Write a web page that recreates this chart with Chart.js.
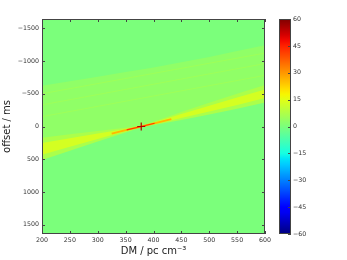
<!DOCTYPE html>
<html>
<head>
<meta charset="utf-8">
<script src="https://cdn.jsdelivr.net/npm/chart.js@4.4.1/dist/chart.umd.min.js"></script>
<style>
  html, body { margin: 0; padding: 0; background: #fff; }
  #wrap { position: relative; width: 347px; height: 260px; }
  #plot { position: absolute; left: 0; top: 0; }
  #bar { position: absolute; left: 275px; top: 0; }
</style>
</head>
<body>
<div id="wrap">
  <canvas id="plot" width="275" height="260"></canvas>
  <canvas id="bar" width="72" height="260"></canvas>
</div>
<script>
var dmTicks = [200, 250, 300, 350, 400, 450, 500, 550, 600];
var offsetTicks = [-1500, -1000, -500, 0, 500, 1000, 1500];
var cbarTicks = [-60, -45, -30, -15, 0, 15, 30, 45, 60];

// sweep of the pulse across DM (offset in ms)
var bandDM     = [200, 250, 300, 350, 378, 400, 450, 500, 550, 600];
var bandCentre = [340, 245, 150, 55, 0, -48, -160, -272, -385, -500];
var outerHalf  = [170, 125, 80, 35, 12, 25, 60, 90, 115, 135];
var innerHalf  = [90, 65, 42, 18, 5, 12, 30, 45, 58, 65];
var fanTop     = [-620, -690, -760, -830, -870, -900, -980, -1060, -1150, -1240];

var coreDM     = [325, 350, 378, 405, 432];
var coreOffset = [108, 55, 0, -56, -112];
var peakDM     = [352, 378, 402];
var peakOffset = [52, 0, -50];

var streakDM   = [200, 600];
var streakA    = [-150, -780];
var streakB    = [-330, -960];
var streakC    = [-500, -1120];

var markerDM = [378];
var markerOffset = [0];

// intensity of each feature, on the colour bar scale
var fanLevel = 3, streakLevel = 5, outerLevel = 7, innerLevel = 13, coreLevel = 26, peakLevel = 42;

function jet(t) {
    t = Math.max(0, Math.min(1, t));
    function seg(p) {
        for (var i = 1; i < p.length; i++) {
            if (t <= p[i][0]) {
                var f = (t - p[i - 1][0]) / (p[i][0] - p[i - 1][0]);
                return p[i - 1][1] + f * (p[i][1] - p[i - 1][1]);
            }
        }
        return p[p.length - 1][1];
    }
    var r = seg([[0, 0], [0.35, 0], [0.66, 1], [0.89, 1], [1, 0.5]]);
    var g = seg([[0, 0], [0.125, 0], [0.375, 1], [0.64, 1], [0.91, 0], [1, 0]]);
    var b = seg([[0, 0.5], [0.11, 1], [0.34, 1], [0.65, 0], [1, 0]]);
    return 'rgb(' + Math.round(r * 255) + ',' + Math.round(g * 255) + ',' + Math.round(b * 255) + ')';
}
function level(v) { return jet((v + 60) / 120); }

function pts(xs, ys) {
    return xs.map(function (x, i) { return {x: x, y: ys[i]}; });
}
function minus(v) { return String(v).replace('-', '\u2212'); }

var outerTop = bandCentre.map(function (c, i) { return c - outerHalf[i]; });
var outerBottom = bandCentre.map(function (c, i) { return c + outerHalf[i]; });
var innerTop = bandCentre.map(function (c, i) { return c - innerHalf[i]; });
var innerBottom = bandCentre.map(function (c, i) { return c + innerHalf[i]; });

var clear = 'rgba(0,0,0,0)';
var font = 'DejaVu Sans';

function edge(data, target, colour, order) {
    return {
        data: data, borderColor: clear, borderWidth: 1, pointRadius: 0,
        fill: target === null ? false : {target: target},
        backgroundColor: colour || clear, order: order
    };
}
function streak(data) {
    return {data: data, borderColor: level(streakLevel), borderWidth: 1, pointRadius: 0, fill: false, order: 5};
}

var framePlugin = {
    id: 'framePlugin',
    beforeDraw: function (chart) {
        var a = chart.chartArea, ctx = chart.ctx;
        ctx.save();
        ctx.fillStyle = level(0);
        ctx.fillRect(a.left, a.top, a.right - a.left, a.bottom - a.top);
        ctx.restore();
    },
    afterDraw: function (chart) {
        var a = chart.chartArea, ctx = chart.ctx;
        var sx = chart.scales.x, sy = chart.scales.y;
        ctx.save();
        ctx.strokeStyle = '#444';
        ctx.lineWidth = 1;
        ctx.strokeRect(a.left + 0.5, a.top + 0.5, a.right - a.left - 1, a.bottom - a.top - 1);
        ctx.beginPath();
        dmTicks.forEach(function (v) {
            var x = Math.round(sx.getPixelForValue(v)) + 0.5;
            ctx.moveTo(x, a.bottom); ctx.lineTo(x, a.bottom - 3);
            ctx.moveTo(x, a.top); ctx.lineTo(x, a.top + 3);
        });
        offsetTicks.forEach(function (v) {
            var y = Math.round(sy.getPixelForValue(v)) + 0.5;
            ctx.moveTo(a.left, y); ctx.lineTo(a.left + 3, y);
            ctx.moveTo(a.right, y); ctx.lineTo(a.right - 3, y);
        });
        ctx.stroke();
        ctx.restore();
    }
};

new Chart(document.getElementById('plot'), {
    type: 'line',
    data: {
        datasets: [
            {data: pts(markerDM, markerOffset), showLine: false, pointStyle: 'cross',
             pointRadius: 4, borderColor: '#b00000', borderWidth: 1.2, order: 0},
            {data: pts(peakDM, peakOffset), borderColor: level(peakLevel), borderWidth: 1.2, pointRadius: 0, fill: false, order: 1},
            {data: pts(coreDM, coreOffset), borderColor: level(coreLevel), borderWidth: 1.8, pointRadius: 0, fill: false, order: 2},
            edge(pts(bandDM, innerTop), 4, level(innerLevel), 3),
            edge(pts(bandDM, innerBottom), null, null, 3),
            edge(pts(bandDM, outerTop), 6, level(outerLevel), 4),
            edge(pts(bandDM, outerBottom), null, null, 4),
            streak(pts(streakDM, streakA)),
            streak(pts(streakDM, streakB)),
            streak(pts(streakDM, streakC)),
            edge(pts(bandDM, fanTop), 11, level(fanLevel), 6),
            edge(pts(bandDM, bandCentre), null, null, 6)
        ]
    },
    options: {
        responsive: false,
        animation: false,
        devicePixelRatio: 1,
        layout: {padding: {top: 19, right: 10, left: 0, bottom: 0}},
        elements: {line: {tension: 0}},
        plugins: {legend: {display: false}, tooltip: {enabled: false}},
        scales: {
            x: {
                type: 'linear', min: 200, max: 600,
                afterBuildTicks: function (s) { s.ticks = dmTicks.map(function (v) { return {value: v}; }); },
                afterFit: function (s) { s.height = 26; },
                grid: {display: false, drawTicks: false}, border: {display: false},
                ticks: {font: {family: font, size: 6.3}, color: '#333', padding: 3, maxRotation: 0, autoSkip: false},
                title: {display: true, text: 'DM / pc cm\u207B\u00B3', color: '#222',
                        font: {family: font, size: 10}, padding: {top: 0, bottom: 3}}
            },
            y: {
                type: 'linear', min: -1640, max: 1640, reverse: true,
                afterBuildTicks: function (s) { s.ticks = offsetTicks.map(function (v) { return {value: v}; }); },
                afterFit: function (s) { s.width = 42; },
                grid: {display: false, drawTicks: false}, border: {display: false},
                ticks: {font: {family: font, size: 6.3}, color: '#333', padding: 3, autoSkip: false, callback: minus},
                title: {display: true, text: 'offset / ms', color: '#222',
                        font: {family: font, size: 10}, padding: {top: 1, bottom: 0}}
            }
        }
    },
    plugins: [framePlugin]
});

var barPlugin = {
    id: 'barPlugin',
    afterDraw: function (chart) {
        var a = chart.chartArea, ctx = chart.ctx, sy = chart.scales.y;
        ctx.save();
        ctx.strokeStyle = '#444';
        ctx.lineWidth = 1;
        ctx.strokeRect(a.left + 0.5, a.top + 0.5, a.right - a.left - 1, a.bottom - a.top - 1);
        ctx.beginPath();
        cbarTicks.forEach(function (v) {
            var y = Math.round(sy.getPixelForValue(v)) + 0.5;
            ctx.moveTo(a.right, y); ctx.lineTo(a.right - 3, y);
        });
        ctx.stroke();
        ctx.restore();
    }
};

new Chart(document.getElementById('bar'), {
    type: 'bar',
    data: {
        labels: [''],
        datasets: [{
            data: [[cbarTicks[0], cbarTicks[cbarTicks.length - 1]]],
            backgroundColor: function (c) {
                var a = c.chart.chartArea;
                if (!a) return level(0);
                var g = c.chart.ctx.createLinearGradient(0, a.bottom, 0, a.top);
                for (var i = 0; i <= 40; i++) g.addColorStop(i / 40, jet(i / 40));
                return g;
            },
            borderWidth: 0, barPercentage: 1, categoryPercentage: 1
        }]
    },
    options: {
        responsive: false,
        animation: false,
        devicePixelRatio: 1,
        layout: {padding: {left: 4, top: 19, bottom: 26, right: 0}},
        plugins: {legend: {display: false}, tooltip: {enabled: false}},
        scales: {
            x: {display: false},
            y: {
                position: 'right', min: -60, max: 60,
                afterBuildTicks: function (s) { s.ticks = cbarTicks.map(function (v) { return {value: v}; }); },
                afterFit: function (s) { s.width = 56; },
                grid: {display: false, drawTicks: false}, border: {display: false},
                ticks: {font: {family: font, size: 6.3}, color: '#333', padding: 2, autoSkip: false, callback: minus}
            }
        }
    },
    plugins: [barPlugin]
});
</script>
</body>
</html>
